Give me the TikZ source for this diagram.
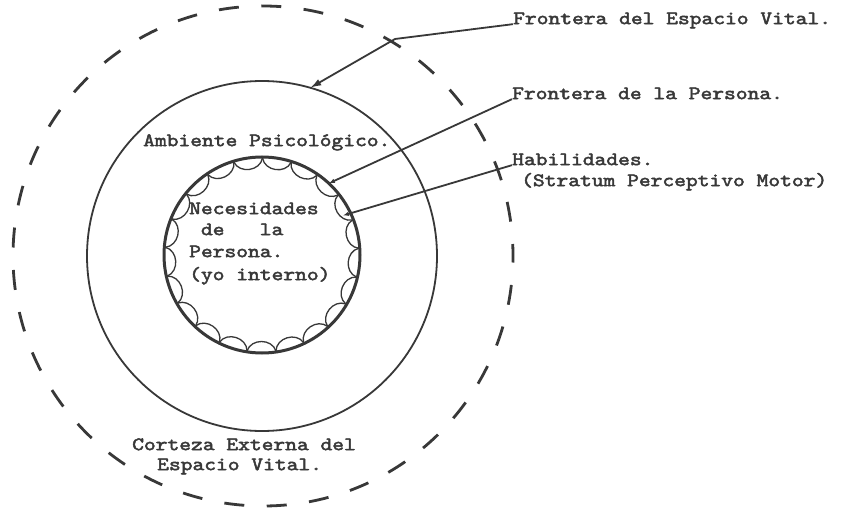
\documentclass[tikz,border=0pt]{standalone}
\usepackage{fontspec}
\newfontfamily\typew{lmmono10-regular}[Extension=.otf, FakeStretch=1.18, FakeBold=2.4]
\usetikzlibrary{arrows.meta,calc}
\definecolor{ink}{HTML}{383838}
\begin{document}
\begin{tikzpicture}[x=1pt,y=-1pt,
  lbl/.style={font=\typew\fontsize{19}{22}\selectfont, text=ink, inner sep=0pt, anchor=mid west},
  conn/.style={draw=ink, line width=1.8pt},
  bigtip/.style={-{Latex[length=11pt,width=7pt]}},
  smalltip/.style={-{Latex[length=6pt,width=4.5pt]}},
  dashring/.style={draw=ink, line width=2.8pt, dash pattern=on 20pt off 22.5pt, dash phase=8pt},
  ring/.style={draw=ink, line width=1.8pt},
  innerring/.style={draw=ink, line width=3pt},
  scallop/.style={draw=ink, line width=1.3pt}]
\useasboundingbox[fill=white] (0,0) rectangle (843,508);
\coordinate (c1) at (263,256);
\coordinate (c2) at (262,256);
\coordinate (c3) at (262,255);
% circles
\draw[dashring] (c1) circle[radius=250pt];
\draw[ring] (c2) circle[radius=175pt];
\draw[innerring] (c3) circle[radius=98pt];
\foreach \i in {0,...,20}{
  \pgfmathsetmacro\a{\i*360/21+4}
  \draw[scallop] ($(c3)+(\a:97pt)$) .. controls ($(c3)+(\a+1.5:84pt)$) and ($(c3)+(\a+15.6:84pt)$) .. ($(c3)+(\a+17.14:97pt)$);
}
% labels
\node[lbl] (ev) at (513,22) {Frontera del Espacio Vital.};
\node[lbl] (fp) at (512,97) {Frontera de la Persona.};
\node[lbl] (hab) at (512,163) {Habilidades.};
\node[lbl] (str) at (521,184) {(Stratum Perceptivo Motor)};
\node[lbl] (amb) at (143,144) {Ambiente Psicológico.};
\node[lbl] (nec) at (189,212) {Necesidades};
\node[lbl] (dela) at (189,233) {~de~~~la};
\node[lbl] (pers) at (189,255) {Persona.};
\node[lbl] (yo) at (189,278) {(yo interno)};
\node[lbl] (cort) at (132,448) {Corteza Externa del};
\node[lbl] (esp) at (157,468) {Espacio Vital.};
% connectors
\coordinate (evbend) at (395,39);
\coordinate (evtip) at ($(c2)+(74:175pt)$);
\coordinate (fptip) at ($(c3)+(47:98pt)$);
\coordinate (habtip) at ($(c3)+(26:90pt)$);
\draw[conn, bigtip] (ev.base west) -- (evbend) -- (evtip);
\draw[conn, smalltip] (fp.base west) -- (fptip);
\draw[conn, smalltip] (hab.base west) -- (habtip);
\end{tikzpicture}
\end{document}
